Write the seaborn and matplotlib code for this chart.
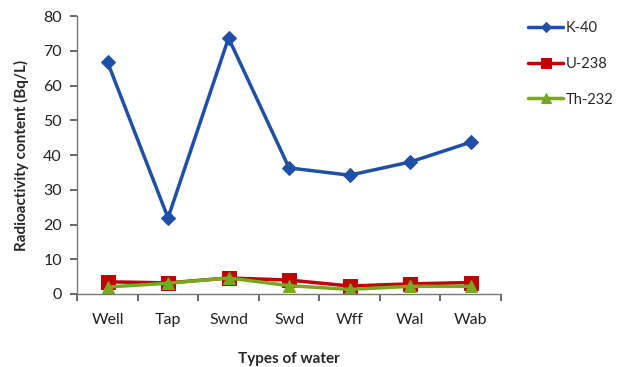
import pandas as pd
import matplotlib
matplotlib.use("Agg")
import matplotlib.pyplot as plt
import seaborn as sns

# data
water = ["Well", "Tap", "Swnd", "Swd", "Wff", "Wal", "Wab"]
k40 = [66.8, 21.9, 73.7, 36.3, 34.2, 38.0, 43.7]
u238 = [3.5, 3.2, 4.6, 4.0, 2.3, 2.9, 3.3]
th232 = [2.0, 3.1, 4.6, 2.4, 1.3, 2.2, 2.2]
nuclides = ["K-40", "U-238", "Th-232"]

sns.set_theme(style="white")
plt.rcParams['font.family'] = ['Lato', 'DejaVu Sans']

df = pd.DataFrame({"Water": water * 3,
                   "Value": k40 + u238 + th232,
                   "Nuclide": [n for n in nuclides for _ in water]})
df["pos"] = df["Water"].map({w: i for i, w in enumerate(water)})

colors = {"K-40": "#1F4FA6", "U-238": "#C00000", "Th-232": "#78A821"}
markers = {"K-40": "D", "U-238": "s", "Th-232": "^"}
sizes = {"K-40": 7, "U-238": 10, "Th-232": 9}

fig = plt.figure(figsize=(6.23, 3.67), dpi=100)
ax = fig.add_axes([0.124, 0.199, 0.68, 0.757])

for n in nuclides:
    sub = df[df["Nuclide"] == n]
    sns.lineplot(data=sub, x="pos", y="Value", color=colors[n], marker=markers[n],
                 markersize=sizes[n], markeredgecolor=colors[n], lw=2.5, label=n, ax=ax)

ax.set_xlim(-0.5, len(water) - 0.5)
ax.set_ylim(0, 80)
ax.set_yticks(range(0, 81, 10))
ax.set_xticks([i - 0.5 for i in range(len(water) + 1)])
ax.set_xticklabels([])
ax.set_xticks(range(len(water)), minor=True)
ax.set_xticklabels(water, minor=True)
ax.tick_params(axis='x', which='major', length=5, color='#555555', direction='out', bottom=True)
ax.tick_params(axis='x', which='minor', length=0, pad=14, labelsize=11.5, colors='#222222')
ax.tick_params(axis='y', length=5, color='#555555', direction='out', left=True, labelsize=11.5,
               labelcolor='#222222', pad=6)

for s in ["top", "right"]:
    ax.spines[s].set_visible(False)
for s in ["left", "bottom"]:
    ax.spines[s].set_color('#777777')
    ax.spines[s].set_linewidth(1)

ax.set_xlabel("Types of water", fontweight='bold', fontsize=11, labelpad=18)
ax.set_ylabel("Radioactivity content (Bq/L)", fontweight='bold', fontsize=11, labelpad=10)

ax.legend(loc='upper left', bbox_to_anchor=(1.04, 1.02), frameon=False, fontsize=10.5,
          handlelength=2.4, labelspacing=1.5, handletextpad=0.2, markerscale=0.75,
          borderaxespad=0.3)

fig.savefig("out.png", dpi=100)
